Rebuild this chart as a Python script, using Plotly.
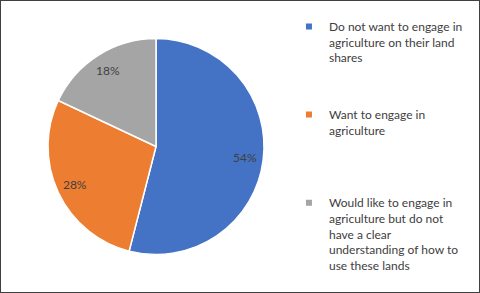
import plotly.graph_objects as go

labels = [
    "Do not want to engage in<br>agriculture on their land<br>shares",
    "Want to engage in<br>agriculture",
    "Would like to engage in<br>agriculture but do not<br>have a clear<br>understanding of how to<br>use these lands",
]
values = [54, 28, 18]
colors = ["#4472C4", "#ED7D31", "#A5A5A5"]

FONT = "Lato"
TXT = "#404040"
DOMAIN = dict(x=[0.1, 0.55], y=[0.131, 0.869])

fig = go.Figure()
# solid pie
fig.add_trace(go.Pie(
    labels=labels, values=values, sort=False, direction="clockwise", rotation=0,
    marker=dict(colors=colors, line=dict(color="white", width=1.5)),
    textinfo="none", domain=DOMAIN, showlegend=False, hoverinfo="label+percent",
))
# transparent ring carrying the percentage labels near the rim
fig.add_trace(go.Pie(
    labels=labels, values=values, sort=False, direction="clockwise", rotation=0,
    hole=0.66,
    marker=dict(colors=["rgba(0,0,0,0)"] * len(values), line=dict(width=0)),
    texttemplate="%{percent:.0%}", textposition="inside", insidetextorientation="horizontal",
    textfont=dict(family=FONT, size=12, color=TXT),
    domain=DOMAIN, showlegend=False, hoverinfo="skip",
))

legend_names = ["legend", "legend2", "legend3"]
legend_y = [0.958, 0.658, 0.357]
for lab, col, lg in zip(labels, colors, legend_names):
    fig.add_trace(go.Scatter(
        x=[None], y=[None], mode="markers", name=lab,
        marker=dict(symbol="square", size=6, color=col),
        legend=lg, showlegend=True,
    ))

leg_common = dict(font=dict(family=FONT, size=12, color=TXT), valign="top",
                  bgcolor="rgba(0,0,0,0)", xanchor="left", yanchor="top",
                  itemclick=False, itemdoubleclick=False)
layout_legends = {}
for lg, y in zip(legend_names, legend_y):
    layout_legends[lg] = dict(x=0.602, y=y, **leg_common)

fig.update_layout(
    width=480, height=293,
    margin=dict(l=0, r=0, t=0, b=0, autoexpand=False),
    paper_bgcolor="white", plot_bgcolor="white",
    xaxis=dict(visible=False), yaxis=dict(visible=False),
    shapes=[dict(type="rect", xref="paper", yref="paper", x0=0, y0=0, x1=1, y1=1,
                 line=dict(color="#404040", width=2))],
    **layout_legends,
)

fig.write_html("out.html", config={"displayModeBar": False},
               post_script="document.body.style.margin='0';")
